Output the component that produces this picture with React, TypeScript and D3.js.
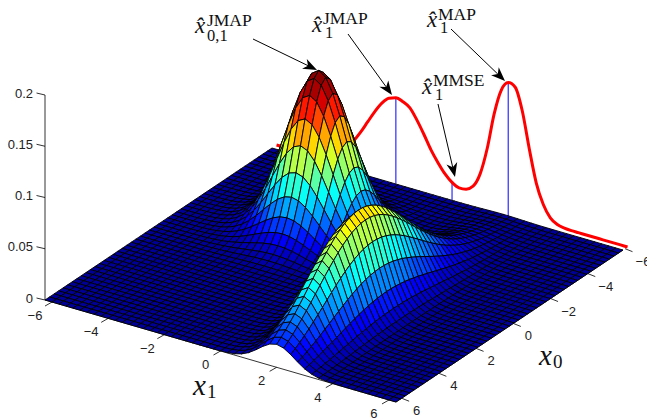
import React, { useEffect, useRef } from "react";
import * as d3 from "d3";

// grid of the surface, both axes
const gridStep = 0.25;
const gridValues = d3.range(-6.25, 6.5, gridStep);

const x1Ticks = [-6, -4, -2, 0, 2, 4, 6];
const x0Ticks = [-6, -4, -2, 0, 2, 4, 6];
const zTicks = [0, 0.05, 0.1, 0.15, 0.2];

// the surface has two humps. Their heights and their cross sections along x0 and x1
// were estimated from the picture, one value per grid line
const peakHeight = 0.157;
const ridgeHeight = 0.1;
const colorTop = 0.148;

const peakAlongX0 = [
  0, 0.001, 0.002, 0.005, 0.011, 0.023, 0.044, 0.08, 0.135, 0.216, 0.325, 0.458, 0.607, 0.755, 0.882, 0.969,
  1, 0.969, 0.882, 0.755, 0.607, 0.458, 0.325, 0.216, 0.135, 0.08, 0.044, 0.023, 0.011, 0.005, 0.002, 0.001, 0,
  0, 0, 0, 0, 0, 0, 0, 0, 0, 0, 0, 0, 0, 0, 0, 0, 0, 0,
];
const peakAlongX1 = [
  0, 0, 0.001, 0.002, 0.005, 0.011, 0.023, 0.044, 0.08, 0.135, 0.216, 0.325, 0.458, 0.607, 0.755, 0.882, 0.969,
  1, 0.969, 0.882, 0.755, 0.607, 0.458, 0.325, 0.216, 0.135, 0.08, 0.044, 0.023, 0.011, 0.005, 0.002, 0.001,
  0, 0, 0, 0, 0, 0, 0, 0, 0, 0, 0, 0, 0, 0, 0, 0, 0, 0,
];
const ridgeAlongX0 = [
  0.009, 0.012, 0.016, 0.02, 0.027, 0.034, 0.044, 0.055, 0.07, 0.087, 0.107, 0.13, 0.157, 0.188, 0.224, 0.263, 0.306,
  0.353, 0.404, 0.458, 0.514, 0.571, 0.63, 0.688, 0.744, 0.797, 0.847, 0.891, 0.929, 0.959, 0.982, 0.995,
  1, 0.995, 0.982, 0.959, 0.929, 0.891, 0.847, 0.797, 0.744, 0.688, 0.63, 0.571, 0.514, 0.458, 0.404, 0.353, 0.306, 0.263, 0.224,
];
const ridgeAlongX1 = [
  0, 0, 0, 0, 0, 0, 0, 0, 0, 0, 0, 0, 0, 0, 0, 0, 0, 0, 0, 0, 0, 0, 0, 0,
  0.002, 0.007, 0.021, 0.059, 0.14, 0.284, 0.492, 0.73, 0.924, 1, 0.924, 0.73, 0.492, 0.284, 0.14, 0.059, 0.021, 0.007, 0.002,
  0, 0, 0, 0, 0, 0, 0, 0,
];

// red curve on the back wall (marginal over x1)
const marginalX1 = [
  0, 0, 0.0001, 0.0002, 0.0004, 0.0009, 0.0018, 0.0035, 0.0064, 0.0108, 0.0173, 0.026, 0.0366, 0.0486, 0.0604, 0.0706, 0.0775,
  0.08, 0.078, 0.074, 0.064, 0.052, 0.039, 0.0285, 0.0195, 0.0132, 0.0098, 0.0105, 0.0155, 0.0295, 0.056, 0.092, 0.117,
  0.1265, 0.124, 0.103, 0.068, 0.0365, 0.0175, 0.0065, 0.002, 0.0005, 0, 0, 0, 0, 0, 0, 0, 0, 0,
];
const estimateMarks = [-2, 0, 2];

const jetStops = ["#00008f", "#0000ff", "#00ffff", "#ffff00", "#ff0000", "#800000"];
const jetDomain = [0, 0.125, 0.375, 0.625, 0.875, 1];

const W = 647;
const H = 419;

// corners of the floor on screen
const leftCorner = [45, 300];
const frontCorner = [396, 402];
const backCorner = [272, 148];

const x1Pos = d3.scaleLinear().domain([-6.25, 6.25]).range([0, 1]);
const x0Pos = d3.scaleLinear().domain([6.25, -6.25]).range([0, 1]);
const zPos = d3.scaleLinear().domain([0, 0.2]).range([0, 205]);
// the x0 ticks sit a little off the grid in the picture
const x0TickPos = d3.scaleLinear().domain([-6, 6]).range([-6.36, 5.94]);

const project = (x0: number, x1: number, z: number): [number, number] => {
  const a = x1Pos(x1);
  const b = x0Pos(x0);
  return [
    leftCorner[0] + a * (frontCorner[0] - leftCorner[0]) + b * (backCorner[0] - leftCorner[0]),
    leftCorner[1] + a * (frontCorner[1] - leftCorner[1]) + b * (backCorner[1] - leftCorner[1]) - zPos(z),
  ];
};

const heightAt = (i: number, j: number) =>
  peakHeight * peakAlongX0[i] * peakAlongX1[j] + ridgeHeight * ridgeAlongX0[i] * ridgeAlongX1[j];

const mathFont = "'Liberation Serif', serif";
const tickFont = "'Liberation Sans', Arial, sans-serif";

// annotation labels: the hat letter with its upper and lower index
const annotations = [
  { x: 195, y: 33, sup: "JMAP", supX: 207, supY: 26, sub: "0,1", subX: 207, subY: 41 },
  { x: 312, y: 32, sup: "JMAP", supX: 323, supY: 24, sub: "1", subX: 325, subY: 38 },
  { x: 427, y: 27, sup: "MAP", supX: 438, supY: 20, sub: "1", subX: 440, subY: 33 },
  { x: 422, y: 94, sup: "MMSE", supX: 433, supY: 86, sub: "1", subX: 435, subY: 100 },
];
const arrows = [
  [253, 39, 317, 70],
  [348, 34, 392, 95],
  [451, 29, 505, 81],
  [438, 104, 455, 177],
];

export default function App() {
  const ref = useRef<SVGSVGElement | null>(null);

  useEffect(() => {
    const svg = d3.select(ref.current);
    svg.selectAll("*").remove();

    const jet = d3.scaleLinear<string>().domain(jetDomain).range(jetStops).interpolate(d3.interpolateRgb);

    // axes
    const axes = svg.append("g").attr("stroke", "#000").attr("stroke-width", 0.8).attr("fill", "none");
    const axisLine = d3.line();
    axes.append("path").attr("d", axisLine([project(6.25, -6.25, 0), project(6.25, 6.25, 0), project(-6.25, 6.25, 0)]));
    axes.append("path").attr("d", axisLine([project(6.25, -6.25, 0), project(6.25, -6.25, 0.2)]));

    x1Ticks.forEach((t) => {
      const p = project(6.25, t, 0);
      axes.append("line").attr("x1", p[0]).attr("y1", p[1]).attr("x2", p[0] - 7).attr("y2", p[1] + 4);
      svg.append("text").attr("x", p[0] - (t < 0 ? 17 : 15)).attr("y", p[1] + 18)
        .attr("text-anchor", "middle").attr("font-family", tickFont).attr("font-size", 13).attr("fill", "#222")
        .text(String(t).replace("-", "\u2212"));
    });
    x0Ticks.forEach((t) => {
      const p = project(x0TickPos(t), 6.25, 0);
      axes.append("line").attr("x1", p[0]).attr("y1", p[1]).attr("x2", p[0] + 7.5).attr("y2", p[1] + 3);
      svg.append("text").attr("x", p[0] + (t < 0 ? 18 : 15)).attr("y", p[1] + 17)
        .attr("text-anchor", "middle").attr("font-family", tickFont).attr("font-size", 13).attr("fill", "#222")
        .text(String(t).replace("-", "\u2212"));
    });
    zTicks.forEach((t) => {
      const p = project(6.25, -6.25, t);
      axes.append("line").attr("x1", p[0]).attr("y1", p[1]).attr("x2", p[0] - 8.5).attr("y2", p[1] - 2);
      svg.append("text").attr("x", 33).attr("y", p[1] + 2.5)
        .attr("text-anchor", "end").attr("font-family", tickFont).attr("font-size", 13).attr("fill", "#222")
        .text(String(t));
    });

    // estimate marks and marginal curve stand behind the surface
    const wallX0 = -6.5;
    estimateMarks.forEach((m) => {
      const j = gridValues.indexOf(m);
      const top = project(wallX0, m, marginalX1[j]);
      const base = project(wallX0, m, -0.004);
      svg.append("line").attr("x1", top[0]).attr("y1", top[1]).attr("x2", base[0]).attr("y2", base[1])
        .attr("stroke", "#0000ff").attr("stroke-width", 1);
    });
    const curve = d3.line<number>()
      .x((_, j) => project(wallX0, gridValues[j], marginalX1[j])[0])
      .y((_, j) => project(wallX0, gridValues[j], marginalX1[j])[1])
      .curve(d3.curveMonotoneX);
    svg.append("path").datum(marginalX1).attr("d", curve).attr("fill", "none")
      .attr("stroke", "#ff0000").attr("stroke-width", 3);

    // surface cells, painted from the back corner to the front one
    const cells: { d: string; color: string }[] = [];
    for (let i = 0; i < gridValues.length - 1; i++) {
      for (let j = 0; j < gridValues.length - 1; j++) {
        const zs = [heightAt(i, j), heightAt(i, j + 1), heightAt(i + 1, j + 1), heightAt(i + 1, j)];
        const pts = [
          project(gridValues[i], gridValues[j], zs[0]),
          project(gridValues[i], gridValues[j + 1], zs[1]),
          project(gridValues[i + 1], gridValues[j + 1], zs[2]),
          project(gridValues[i + 1], gridValues[j], zs[3]),
        ];
        const level = Math.min(63, Math.floor((d3.mean(zs) as number) / colorTop * 64));
        cells.push({ d: "M" + pts.map((p) => p.join(",")).join("L") + "Z", color: jet((level + 0.5) / 64) });
      }
    }
    svg.append("g").selectAll("path").data(cells).join("path")
      .attr("d", (d) => d.d)
      .attr("fill", (d) => d.color)
      .attr("stroke", "#000")
      .attr("stroke-width", 0.9)
      .attr("stroke-linejoin", "round");

    // arrows
    arrows.forEach(([x1, y1, x2, y2]) => {
      const a = Math.atan2(y2 - y1, x2 - x1);
      const at = (back: number, side: number) => [
        x2 - back * Math.cos(a) - side * Math.sin(a),
        y2 - back * Math.sin(a) + side * Math.cos(a),
      ];
      const neck = at(10, 0);
      svg.append("line").attr("x1", x1).attr("y1", y1).attr("x2", neck[0]).attr("y2", neck[1])
        .attr("stroke", "#000").attr("stroke-width", 1);
      svg.append("path")
        .attr("d", "M" + [[x2, y2], at(14, 5.5), neck, at(14, -5.5)].map((p) => p.join(",")).join("L") + "Z")
        .attr("fill", "#000");
    });

    // annotation labels
    annotations.forEach((n) => {
      const g = svg.append("g").attr("font-family", mathFont).attr("fill", "#111");
      g.append("text").attr("x", n.x).attr("y", n.y).attr("font-size", 23).attr("font-style", "italic").text("x\u0302");
      g.append("text").attr("x", n.supX).attr("y", n.supY).attr("font-size", 17.5).text(n.sup);
      g.append("text").attr("x", n.subX).attr("y", n.subY).attr("font-size", 16.5).text(n.sub);
    });

    // axis names
    const names = svg.append("g").attr("font-family", mathFont).attr("fill", "#111");
    names.append("text").attr("x", 193).attr("y", 395).attr("font-size", 29).attr("font-style", "italic").text("x");
    names.append("text").attr("x", 207).attr("y", 398).attr("font-size", 19).text("1");
    names.append("text").attr("x", 539).attr("y", 365).attr("font-size", 29).attr("font-style", "italic").text("x");
    names.append("text").attr("x", 553).attr("y", 368).attr("font-size", 19).text("0");
  }, []);

  return (
    <svg
      ref={ref}
      width={W}
      height={H}
      style={{ position: "absolute", left: 0, top: 0, background: "#fff" }}
    />
  );
}
